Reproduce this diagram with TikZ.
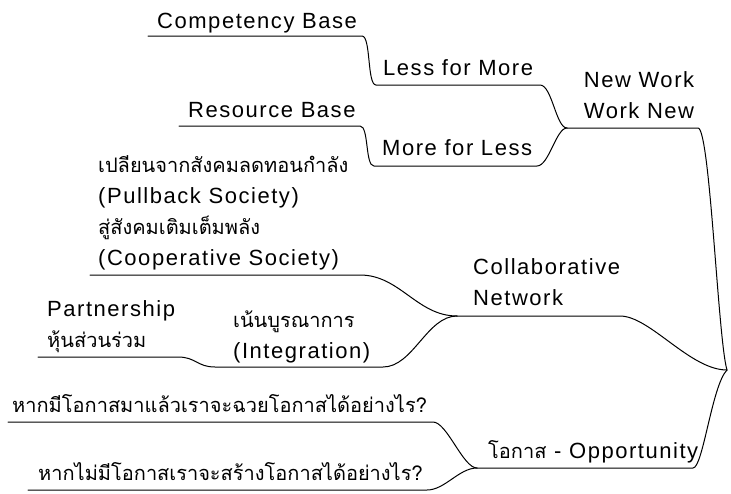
\documentclass[tikz,border=0pt]{standalone}
\usepackage{fontspec}
\setmainfont[LetterSpace=7]{Liberation Sans}
\newfontfamily\thaifont[Script=Thai]{Loma}
\newcommand{\thaitext}[1]{{\thaifont\fontsize{20}{31}\selectfont #1}}
\tikzset{
  topic/.style={inner sep=0pt, font=\fontsize{22}{31}\selectfont, anchor=base west, align=left},
  branch/.style={line width=1pt, line cap=round},
}

\begin{document}
\begin{tikzpicture}[x=1pt, y=-1pt]
        \useasboundingbox (0,0) rectangle (731,493);

        % Root and junction points
        \coordinate (root) at (727,370);
        \coordinate (nw-a) at (567,128);  \coordinate (nw-b) at (698,128);
        \coordinate (cb-a) at (148,36);   \coordinate (cb-b) at (362,36);
        \coordinate (lm-a) at (376,85);   \coordinate (lm-b) at (540,85);
        \coordinate (rb-a) at (179,126);  \coordinate (rb-b) at (360,126);
        \coordinate (ml-a) at (374,166);  \coordinate (ml-b) at (537,166);
        \coordinate (cn-a) at (457,316);  \coordinate (cn-b) at (620,316);
        \coordinate (ps-a) at (90,275);   \coordinate (ps-b) at (360,275);
        \coordinate (pa-a) at (38,357);   \coordinate (pa-b) at (178,357);
        \coordinate (in-a) at (215,367);  \coordinate (in-b) at (383,367);
        \coordinate (op-a) at (477,468);  \coordinate (op-b) at (693,468);
        \coordinate (q1-a) at (8,422);    \coordinate (q1-b) at (433,422);
        \coordinate (q2-a) at (28,490);   \coordinate (q2-b) at (427,490);

        % Draw labels (multi-line labels sit on their last baseline)
        \node[topic] (cb) at (157,28) {Competency Base};
        \node[topic] (lm) at (383,75) {Less for More};
        \node[topic, align=center, anchor=base] (nw) at (639,118) {New Work\\Work New};
        \node[topic] (rb) at (188,117) {Resource Base};
        \node[topic] (ml) at (382,155) {More for Less};
        \node[topic] (ps) at (98,265) {\thaitext{เปลียนจากสังคมลดทอนกำลัง}\\(Pullback Society)\\\thaitext{สู่สังคมเติมเต็มพลัง}\\(Cooperative Society)};
        \node[topic] (cn) at (473,305) {Collaborative\\Network};
        \node[topic] (pa) at (47,347) {Partnership\\\thaitext{หุ้นส่วนร่วม}};
        \node[topic] (in) at (233,358) {\thaitext{เน้นบูรณาการ}\\(Integration)};
        \node[topic] (op) at (488,458) {\thaitext{โอกาส} - Opportunity};
        \node[topic] (q1) at (12,412) {\thaitext{หากมีโอกาสมาแล้วเราจะฉวยโอกาสได้อย่างไร?}};
        \node[topic] (q2) at (38,480) {\thaitext{หากไม่มีโอกาสเราจะสร้างโอกาสได้อย่างไร?}};

        % Draw branches
        \draw[branch] (cb-a) -- (cb-b) .. controls +(9,0) and +(-9,0) .. (lm-a) -- (lm-b) .. controls +(12,0) and +(-11,0) .. (nw-a);
        \draw[branch] (rb-a) -- (rb-b) .. controls +(9,0) and +(-9,0) .. (ml-a) -- (ml-b) .. controls +(12,0) and +(-11,0) .. (nw-a);
        \draw[branch] (nw-a) -- (nw-b) .. controls +(12,0) and (718,340) .. (root);
        \draw[branch] (ps-a) -- (ps-b) .. controls +(40,0) and +(-40,0) .. (cn-a);
        \draw[branch] (pa-a) -- (pa-b) .. controls +(18,0) and +(-18,0) .. (in-a) -- (in-b) .. controls +(30,0) and +(-30,0) .. (cn-a);
        \draw[branch] (cn-a) -- (cn-b) .. controls +(30,0) and (690,370) .. (root);
        \draw[branch] (q1-a) -- (q1-b) .. controls +(14,0) and +(-14,0) .. (op-a);
        \draw[branch] (q2-a) -- (q2-b) .. controls +(18,0) and +(-18,0) .. (op-a);
        \draw[branch] (op-a) -- (op-b) .. controls +(10,0) and (712,385) .. (root);
    \end{tikzpicture}
\end{document}
